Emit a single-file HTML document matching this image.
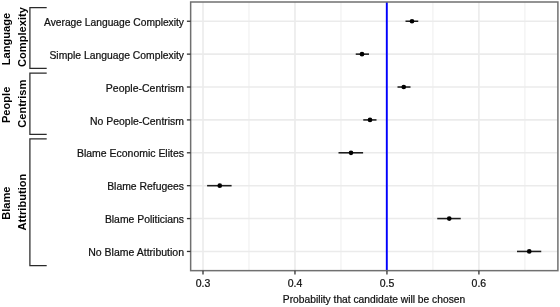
<!DOCTYPE html>
<html><head><meta charset="utf-8"><style>
html,body{margin:0;padding:0;background:#fff;}
svg{display:block;filter:blur(0.35px);font-family:"Liberation Sans",sans-serif;}
</style></head><body>
<svg width="560" height="307" viewBox="0 0 560 307">
<rect width="560" height="307" fill="#fff"/>
<line x1="248.98" y1="2.0" x2="248.98" y2="270.65" stroke="#f1f1f1" stroke-width="1.2"/>
<line x1="340.96" y1="2.0" x2="340.96" y2="270.65" stroke="#f1f1f1" stroke-width="1.2"/>
<line x1="432.93" y1="2.0" x2="432.93" y2="270.65" stroke="#f1f1f1" stroke-width="1.2"/>
<line x1="524.89" y1="2.0" x2="524.89" y2="270.65" stroke="#f1f1f1" stroke-width="1.2"/>
<line x1="203.00" y1="2.0" x2="203.00" y2="270.65" stroke="#ebebeb" stroke-width="1.6"/>
<line x1="294.97" y1="2.0" x2="294.97" y2="270.65" stroke="#ebebeb" stroke-width="1.6"/>
<line x1="386.94" y1="2.0" x2="386.94" y2="270.65" stroke="#ebebeb" stroke-width="1.6"/>
<line x1="478.91" y1="2.0" x2="478.91" y2="270.65" stroke="#ebebeb" stroke-width="1.6"/>
<line x1="190.65" y1="21.25" x2="557.9" y2="21.25" stroke="#ebebeb" stroke-width="1.6"/>
<line x1="190.65" y1="54.14" x2="557.9" y2="54.14" stroke="#ebebeb" stroke-width="1.6"/>
<line x1="190.65" y1="87.02" x2="557.9" y2="87.02" stroke="#ebebeb" stroke-width="1.6"/>
<line x1="190.65" y1="119.91" x2="557.9" y2="119.91" stroke="#ebebeb" stroke-width="1.6"/>
<line x1="190.65" y1="152.79" x2="557.9" y2="152.79" stroke="#ebebeb" stroke-width="1.6"/>
<line x1="190.65" y1="185.68" x2="557.9" y2="185.68" stroke="#ebebeb" stroke-width="1.6"/>
<line x1="190.65" y1="218.57" x2="557.9" y2="218.57" stroke="#ebebeb" stroke-width="1.6"/>
<line x1="190.65" y1="251.45" x2="557.9" y2="251.45" stroke="#ebebeb" stroke-width="1.6"/>
<line x1="386.8" y1="2.0" x2="386.8" y2="270.65" stroke="#0000ff" stroke-width="1.9"/>
<line x1="405.5" y1="21.25" x2="418.25" y2="21.25" stroke="#1e1e1e" stroke-width="1.55"/>
<circle cx="412" cy="21.25" r="2.35" fill="#000"/>
<line x1="355.75" y1="54.14" x2="369" y2="54.14" stroke="#1e1e1e" stroke-width="1.55"/>
<circle cx="362" cy="54.14" r="2.35" fill="#000"/>
<line x1="397.5" y1="87.02" x2="410.5" y2="87.02" stroke="#1e1e1e" stroke-width="1.55"/>
<circle cx="403.75" cy="87.02" r="2.35" fill="#000"/>
<line x1="363.25" y1="119.91" x2="376.5" y2="119.91" stroke="#1e1e1e" stroke-width="1.55"/>
<circle cx="370" cy="119.91" r="2.35" fill="#000"/>
<line x1="338.5" y1="152.79" x2="363.1" y2="152.79" stroke="#1e1e1e" stroke-width="1.55"/>
<circle cx="351" cy="152.79" r="2.35" fill="#000"/>
<line x1="207.1" y1="185.68" x2="231.6" y2="185.68" stroke="#1e1e1e" stroke-width="1.55"/>
<circle cx="219.75" cy="185.68" r="2.35" fill="#000"/>
<line x1="437.25" y1="218.57" x2="460.75" y2="218.57" stroke="#1e1e1e" stroke-width="1.55"/>
<circle cx="449.25" cy="218.57" r="2.35" fill="#000"/>
<line x1="517" y1="251.45" x2="541.25" y2="251.45" stroke="#1e1e1e" stroke-width="1.55"/>
<circle cx="529.25" cy="251.45" r="2.35" fill="#000"/>
<rect x="190.65" y="2.0" width="367.25" height="268.65" fill="none" stroke="#707070" stroke-width="1.5"/>
<line x1="186.9" y1="21.25" x2="190.65" y2="21.25" stroke="#333" stroke-width="1.3"/>
<text x="184" y="25.85" text-anchor="end" font-size="10.25" fill="#111" stroke="#111" stroke-width="0.22">Average Language Complexity</text>
<line x1="186.9" y1="54.14" x2="190.65" y2="54.14" stroke="#333" stroke-width="1.3"/>
<text x="184" y="58.74" text-anchor="end" font-size="10.35" fill="#111" stroke="#111" stroke-width="0.22">Simple Language Complexity</text>
<line x1="186.9" y1="87.02" x2="190.65" y2="87.02" stroke="#333" stroke-width="1.3"/>
<text x="184" y="91.62" text-anchor="end" font-size="10.5" fill="#111" stroke="#111" stroke-width="0.22">People-Centrism</text>
<line x1="186.9" y1="119.91" x2="190.65" y2="119.91" stroke="#333" stroke-width="1.3"/>
<text x="184" y="124.51" text-anchor="end" font-size="10.45" fill="#111" stroke="#111" stroke-width="0.22">No People-Centrism</text>
<line x1="186.9" y1="152.79" x2="190.65" y2="152.79" stroke="#333" stroke-width="1.3"/>
<text x="184" y="157.39" text-anchor="end" font-size="10.47" fill="#111" stroke="#111" stroke-width="0.22">Blame Economic Elites</text>
<line x1="186.9" y1="185.68" x2="190.65" y2="185.68" stroke="#333" stroke-width="1.3"/>
<text x="184" y="190.28" text-anchor="end" font-size="10.4" fill="#111" stroke="#111" stroke-width="0.22">Blame Refugees</text>
<line x1="186.9" y1="218.57" x2="190.65" y2="218.57" stroke="#333" stroke-width="1.3"/>
<text x="184" y="223.17" text-anchor="end" font-size="10.4" fill="#111" stroke="#111" stroke-width="0.22">Blame Politicians</text>
<line x1="186.9" y1="251.45" x2="190.65" y2="251.45" stroke="#333" stroke-width="1.3"/>
<text x="184" y="256.05" text-anchor="end" font-size="10.5" fill="#111" stroke="#111" stroke-width="0.22">No Blame Attribution</text>
<line x1="203.00" y1="270.65" x2="203.00" y2="274.55" stroke="#333" stroke-width="1.3"/>
<text x="203.00" y="286.8" text-anchor="middle" font-size="10.5" fill="#111" stroke="#111" stroke-width="0.22">0.3</text>
<line x1="294.97" y1="270.65" x2="294.97" y2="274.55" stroke="#333" stroke-width="1.3"/>
<text x="294.97" y="286.8" text-anchor="middle" font-size="10.5" fill="#111" stroke="#111" stroke-width="0.22">0.4</text>
<line x1="386.94" y1="270.65" x2="386.94" y2="274.55" stroke="#333" stroke-width="1.3"/>
<text x="386.94" y="286.8" text-anchor="middle" font-size="10.5" fill="#111" stroke="#111" stroke-width="0.22">0.5</text>
<line x1="478.91" y1="270.65" x2="478.91" y2="274.55" stroke="#333" stroke-width="1.3"/>
<text x="478.91" y="286.8" text-anchor="middle" font-size="10.5" fill="#111" stroke="#111" stroke-width="0.22">0.6</text>
<text x="374" y="303.3" text-anchor="middle" font-size="10.25" fill="#111" stroke="#111" stroke-width="0.22">Probability that candidate will be chosen</text>
<path d="M46.7 7.50 H29.9 V68.40 H46.7" fill="none" stroke="#2a2a2a" stroke-width="1.25"/>
<text transform="translate(9.9 39.05) rotate(-90)" text-anchor="middle" font-size="11.1" font-weight="bold" fill="#000">Language</text>
<text transform="translate(25.9 37.05) rotate(-90)" text-anchor="middle" font-size="11.1" font-weight="bold" fill="#000">Complexity</text>
<path d="M46.7 73.00 H29.9 V134.30 H46.7" fill="none" stroke="#2a2a2a" stroke-width="1.25"/>
<text transform="translate(9.9 104.85) rotate(-90)" text-anchor="middle" font-size="11.1" font-weight="bold" fill="#000">People</text>
<text transform="translate(25.9 103.75) rotate(-90)" text-anchor="middle" font-size="11.1" font-weight="bold" fill="#000">Centrism</text>
<path d="M46.7 138.80 H29.9 V265.70 H46.7" fill="none" stroke="#2a2a2a" stroke-width="1.25"/>
<text transform="translate(9.9 203.15) rotate(-90)" text-anchor="middle" font-size="11.1" font-weight="bold" fill="#000">Blame</text>
<text transform="translate(25.9 202.05) rotate(-90)" text-anchor="middle" font-size="11.1" font-weight="bold" fill="#000">Attribution</text>
</svg>
</body></html>
